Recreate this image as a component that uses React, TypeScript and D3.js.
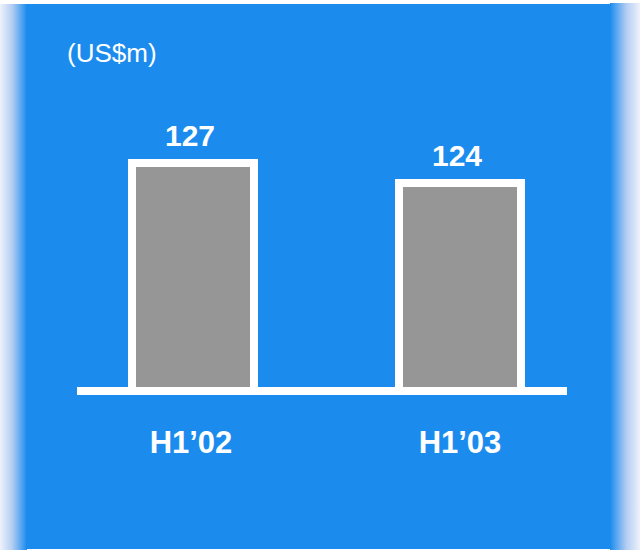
import React from "react";
import * as d3 from "d3";

const categories = ["H1\u201902", "H1\u201903"];
const values = [127, 124];
const unitLabel = "(US$m)";

const W = 640;
const H = 550;
const BLUE = "#1b8cee";
const GRAY = "#969696";
const FONT = "'Liberation Sans', Arial, Helvetica, sans-serif";

export default function App() {
  const x = d3.scalePoint<string>().domain(categories).range([193, 460]);
  const y = d3.scaleLinear().domain([92.8, 127]).range([391, 163]);
  const barW = 122;
  const baseY = y(92.8);

  return (
    <svg
      width={W}
      height={H}
      style={{ position: "absolute", left: 0, top: 0, display: "block" }}
    >
      <defs>
        <linearGradient id="gl" x1="0" x2="1" y1="0" y2="0">
          <stop offset="0" stopColor="#eef2fb" />
          <stop offset="0.45" stopColor="#b4cdf3" />
          <stop offset="1" stopColor={BLUE} />
        </linearGradient>
        <linearGradient id="gr" x1="0" x2="1" y1="0" y2="0">
          <stop offset="0" stopColor={BLUE} />
          <stop offset="0.55" stopColor="#b4cdf3" />
          <stop offset="1" stopColor="#eef2fb" />
        </linearGradient>
      </defs>
      <rect x={0} y={0} width={W} height={H} fill="#ffffff" />
      <rect x={0} y={4} width={27} height={H - 4} fill="url(#gl)" />
      <rect x={610} y={3} width={30} height={H - 3} fill="url(#gr)" />
      <rect x={26} y={4} width={585} height={545} fill={BLUE} />

      <text
        x={67}
        y={62}
        fill="#ffffff"
        fontFamily={FONT}
        fontSize={26}
      >
        {unitLabel}
      </text>

      {categories.map((c, i) => {
        const cx = x(c) as number;
        const top = y(values[i]);
        return (
          <g key={c}>
            <rect
              x={cx - barW / 2}
              y={top}
              width={barW}
              height={baseY - top}
              fill={GRAY}
              stroke="#ffffff"
              strokeWidth={8}
            />
            <text
              x={cx - 3}
              y={top - 17}
              textAnchor="middle"
              fill="#ffffff"
              fontFamily={FONT}
              fontWeight="bold"
              fontSize={30}
            >
              {values[i]}
            </text>
            <text
              x={cx - 2 + i * 2}
              y={453}
              textAnchor="middle"
              fill="#ffffff"
              fontFamily={FONT}
              fontWeight="bold"
              fontSize={31}
            >
              {c}
            </text>
          </g>
        );
      })}

      <line
        x1={77}
        x2={567}
        y1={baseY}
        y2={baseY}
        stroke="#ffffff"
        strokeWidth={8}
      />
    </svg>
  );
}
